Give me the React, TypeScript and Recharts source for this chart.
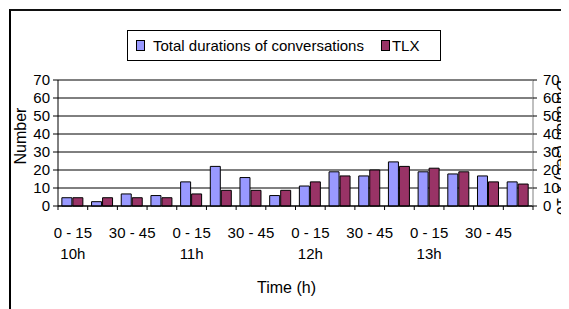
import React from "react";
import { ComposedChart, Bar, Line, XAxis, YAxis, CartesianGrid, Legend, ReferenceLine } from "recharts";

const hours = ["10h", "11h", "12h", "13h"];
const quarters = ["0 - 15", "15 - 30", "30 - 45", "45 - 60"];
const conversations = [4.6, 2.4, 6.7, 5.8, 13.4, 22, 15.8, 5.8, 11.1, 19, 16.7, 24.5, 19, 17.8, 16.7, 13.4];
const tlx = [4.6, 4.6, 4.6, 4.6, 6.7, 8.7, 8.7, 8.7, 13.4, 16.7, 20, 22, 21, 19, 13.4, 12.2];
const yTicks = [0, 10, 20, 30, 40, 50, 60, 70];
const seriesNames = ["Total durations of conversations", "TLX"];

const data = hours.flatMap((h, hi) =>
  quarters.map((q, qi) => {
    const i = hi * 4 + qi;
    return { slot: `${h} ${q}`, hour: h, quarter: q, conversations: conversations[i], tlx: tlx[i] };
  })
);

const FONT = "'Liberation Sans', Arial, sans-serif";
const BLUE = "#9999FF";
const RED = "#993366";

// labels every second slot, hour under the first quarter, tick marks on slot edges
const SlotTick = (props: any) => {
  const { x, y, index, width } = props;
  const half = (width || 475) / data.length / 2;
  const row = data[index];
  return (
    <g>
      <line x1={x - half} x2={x - half} y1={y} y2={y + 4} stroke="#000" />
      {index === data.length - 1 && <line x1={x + half} x2={x + half} y1={y} y2={y + 4} stroke="#000" />}
      {index % 2 === 0 && (
        <text x={x} y={y + 32} textAnchor="middle" fontSize={15} fontFamily={FONT} fill="#000">
          {row.quarter}
        </text>
      )}
      {index % 4 === 0 && (
        <text x={x} y={y + 53} textAnchor="middle" fontSize={15} fontFamily={FONT} fill="#000">
          {row.hour}
        </text>
      )}
    </g>
  );
};

const NumberLabel = ({ viewBox }: any) => {
  const cx = viewBox.x + 12;
  const cy = viewBox.y + viewBox.height / 2 - 7;
  return (
    <text x={cx} y={cy} transform={`rotate(-90, ${cx}, ${cy})`} textAnchor="middle" dominantBaseline="central"
      fontSize={16} fontFamily={FONT} fill="#000">
      Number
    </text>
  );
};

const DurationLabel = ({ viewBox }: any) => {
  const cx = viewBox.x + 29;
  const cy = viewBox.y;
  return (
    <text x={cx} y={cy} transform={`rotate(90, ${cx}, ${cy})`} textAnchor="start" dominantBaseline="central"
      fontSize={16} fontFamily={FONT} fill="#000">
      Duration (sec) x 10
    </text>
  );
};

const TimeLabel = ({ viewBox }: any) => (
  <text x={viewBox.x + viewBox.width / 2 - 9} y={viewBox.y + 87} textAnchor="middle"
    fontSize={16} fontFamily={FONT} fill="#000">
    Time (h)
  </text>
);

const LegendBox = ({ payload }: any) => {
  const items = seriesNames
    .map((n) => (payload || []).find((p: any) => p.value === n))
    .filter(Boolean);
  return (
    <div style={{
      border: "1px solid #000", boxSizing: "border-box", height: 31, display: "flex", alignItems: "center",
      paddingLeft: 8, fontFamily: FONT, fontSize: 15, color: "#000", background: "#fff",
    }}>
      {items.map((p: any, i: number) => (
        <span key={p.value} style={{ display: "flex", alignItems: "center", marginLeft: i === 0 ? 0 : 17 }}>
          <span style={{ width: 9, height: 11, background: p.color, border: "1px solid #000", boxSizing: "border-box" }} />
          <span style={{ marginLeft: i === 0 ? 8 : 2 }}>{p.value}</span>
        </span>
      ))}
    </div>
  );
};

export default function App() {
  return (
    <div style={{ position: "relative", width: 561, height: 301, overflow: "hidden", background: "#fff" }}>
      <style>{"html,body{overflow:hidden}"}</style>
      <div style={{
        position: "absolute", left: 1, top: 1, right: -20, bottom: -20,
        borderLeft: "2px solid #000", borderTop: "2px solid #111",
      }} />
      <div style={{ position: "absolute", left: 0, top: 0 }}>
        <ComposedChart width={561} height={301} data={data} margin={{ top: 72, right: 0, bottom: 18, left: 0 }}
          barCategoryGap="13%" barGap={1}>
          <CartesianGrid vertical={false} stroke="#000" />
          <ReferenceLine y={70} stroke="#808080" />
          <XAxis dataKey="slot" height={85} interval={0} tickLine={false} tickSize={0} tickMargin={0}
            axisLine={{ stroke: "#000" }} tick={<SlotTick />} label={<TimeLabel />} />
          <YAxis width={50} domain={[0, 70]} ticks={yTicks} interval={0} tickSize={5} tickMargin={3}
            axisLine={{ stroke: "#000" }} tickLine={{ stroke: "#000" }}
            tick={{ fill: "#000", fontSize: 15, fontFamily: FONT }} label={<NumberLabel />} />
          <YAxis yAxisId="right" orientation="right" width={36} domain={[0, 70]} ticks={yTicks} interval={0}
            allowDataOverflow tickSize={4} tickMargin={6} axisLine={{ stroke: "#808080" }} tickLine={{ stroke: "#000" }}
            tick={{ fill: "#000", fontSize: 15, fontFamily: FONT }} label={<DurationLabel />} />
          <Legend layout="horizontal" verticalAlign="middle" align="center" content={<LegendBox />}
            wrapperStyle={{ left: 119, top: 22, width: 314, height: 31 }} />
          <Bar dataKey="conversations" name={seriesNames[0]} fill={BLUE} stroke="#000"
            strokeWidth={1} isAnimationActive={false} />
          <Bar dataKey="tlx" name={seriesNames[1]} fill={RED} stroke="#000" strokeWidth={1} isAnimationActive={false} />
          <Line yAxisId="right" dataKey="conversations" name="right-scale" stroke="none" dot={false}
            activeDot={false} legendType="none" isAnimationActive={false} />
        </ComposedChart>
      </div>
    </div>
  );
}
